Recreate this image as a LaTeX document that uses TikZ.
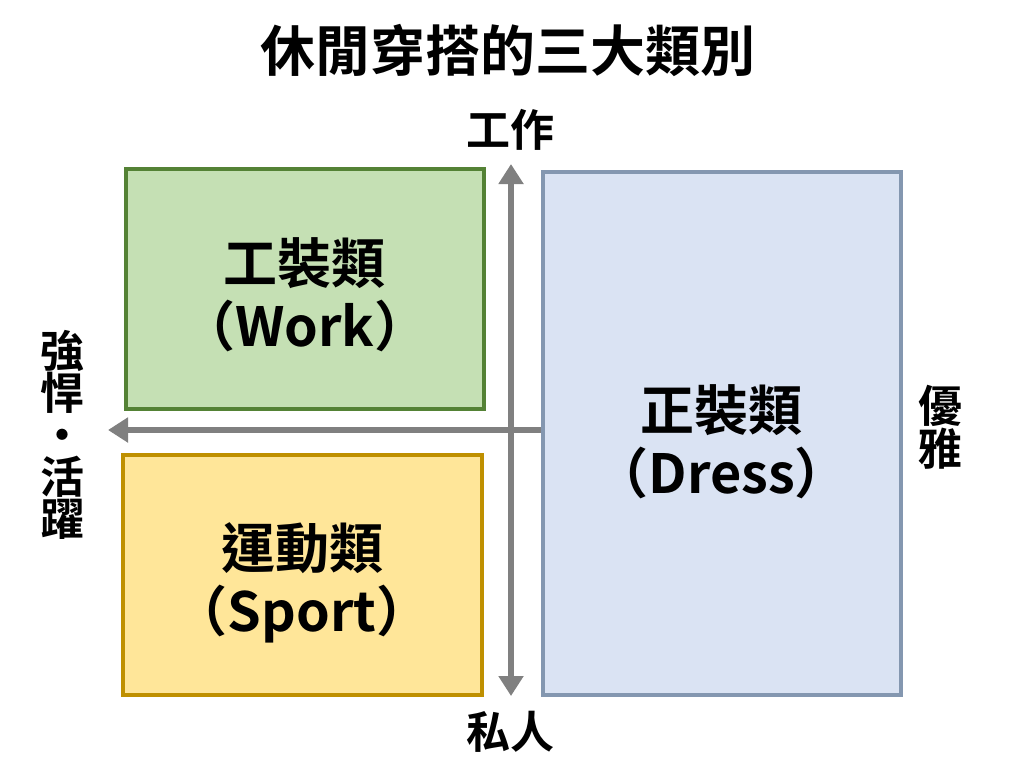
\documentclass[tikz,border=0pt]{standalone}
\usepackage{fontspec}
\setmainfont{Noto Sans CJK TC}[BoldFont={Noto Sans CJK TC Bold}]
\usepackage{tikz}
\usetikzlibrary{arrows.meta}

\definecolor{workfill}{HTML}{C5E0B4}
\definecolor{workline}{HTML}{548235}
\definecolor{sportfill}{HTML}{FFE699}
\definecolor{sportline}{HTML}{BF9000}
\definecolor{dressfill}{HTML}{DAE3F3}
\definecolor{dressline}{HTML}{8497B0}
\definecolor{axisgray}{HTML}{808080}

\tikzset{
  catbox/.style={draw, line width=3.5pt, inner sep=0pt, anchor=north west},
  catlabel/.style={font=\bfseries\fontsize{54}{63}\selectfont, align=center},
  axislabel/.style={font=\bfseries\fontsize{44}{42}\selectfont, align=center},
  axisline/.style={draw=axisgray, line width=5.5pt, -{Triangle[length=20pt,width=24pt]}},
}

\begin{document}
\begin{tikzpicture}[x=1pt,y=-1pt]
  \useasboundingbox[fill=white] (0,0) rectangle (1024,769);

  \node[font=\bfseries\fontsize{55}{60}\selectfont] (title) at (508,50) {休閒穿搭的三大類別};

  % category boxes
  \node[catbox, fill=workfill, draw=workline, minimum width=358pt, minimum height=240pt] (work) at (124,167) {};
  \node[catbox, fill=sportfill, draw=sportline, minimum width=359pt, minimum height=240pt] (sport) at (121,453) {};
  \node[catbox, fill=dressfill, draw=dressline, minimum width=358pt, minimum height=523pt] (dress) at (541,170) {};

  \node[catlabel] (worktext) at ([yshift=-6pt]work.center) {工裝類\\（Work）};
  \node[catlabel] (sporttext) at ([yshift=-8pt]sport.center) {運動類\\（Sport）};
  \node[catlabel] (dresstext) at ([yshift=-8pt]dress.center) {正裝類\\（Dress）};

  % axes
  \coordinate (top) at (511,164);
  \coordinate (bottom) at (511,696);
  \coordinate (left) at (108,430);
  \coordinate (right) at (dress.west |- left);
  \draw[axisline] (right) -- (left);
  \draw[axisline, {Triangle[length=20pt,width=24pt]}-{Triangle[length=20pt,width=24pt]}] (top) -- (bottom);

  \node[axislabel] (job) at (510,130) {工作};
  \node[axislabel] (private) at (510,732) {私人};
  \node[axislabel, font=\bfseries\fontsize{44}{39}\selectfont] (elegant) at (940,427) {優\\雅};
  \node[axislabel] (active) at (62,435) {強\\悍\\・\\活\\躍};
\end{tikzpicture}
\end{document}
